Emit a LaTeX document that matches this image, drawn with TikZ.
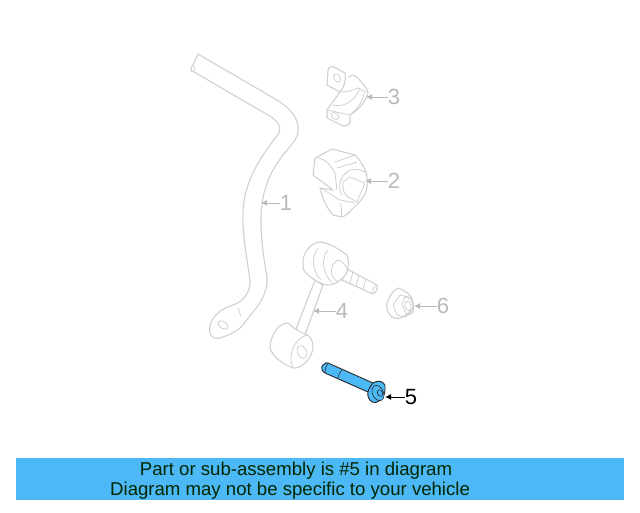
\documentclass[tikz,border=0pt]{standalone}
\usepackage{fontspec}
\setmainfont{Liberation Sans}
\usetikzlibrary{arrows.meta}
\usetikzlibrary{positioning}
\definecolor{partgray}{RGB}{208,208,208}
\definecolor{labelgray}{RGB}{185,185,185}
\definecolor{partblue}{RGB}{77,184,246}
\tikzset{
part/.style={draw=partgray, line width=1.1pt, line join=round},
partin/.style={draw=partgray, line width=0.8pt},
num/.style={text=labelgray, font=\fontsize{22}{22}\selectfont, inner sep=0pt},
lead/.style={draw=labelgray, line width=1pt, -{Latex[length=6pt,width=6pt]}},
bolt/.style={draw=black!85, line width=0.9pt, fill=partblue, line join=round},
banner/.style={font=\fontsize{18.6}{18.6}\selectfont, text=black!85!green, inner sep=0pt}
}
\begin{document}
\begin{tikzpicture}[x=1pt,y=-1pt]
\useasboundingbox (0,0) rectangle (640,512);
% stabilizer bar
\draw[part] (198,54) -- (277,100) .. controls (293,110) and (304,124) .. (295,140)
.. controls (285,154) and (266,170) .. (262,205) .. controls (259,225) and (263,255) .. (267,277)
.. controls (268,295) and (258,306) .. (245,322) .. controls (240,330) and (232,334) .. (220,338)
.. controls (212,340) and (208,334) .. (210,326) .. controls (212,316) and (222,308) .. (233,305)
.. controls (243,302) and (251,292) .. (250,280) .. controls (247,258) and (242,235) .. (243,212)
.. controls (244,180) and (262,155) .. (279,133) .. controls (282,127) and (277,120) .. (268,115)
-- (194,72) .. controls (190,72) and (190,68) .. (193,65) -- cycle;
\draw[partin] (193,65) .. controls (195,68) and (195,70) .. (194,72);
\draw[partin] (238,308) -- (241,316);
\draw[partin, rotate around={-35:(223,325)}] (223,325) ellipse (5.5 and 3.5);
% clamp
\draw[part] (328,70) .. controls (329,67) and (331,66) .. (334,67) -- (345,73) .. controls (346,80) and (345,86) .. (340,92)
.. controls (336,98) and (331,104) .. (327,110) -- (327,118) -- (343,126) .. controls (346,126) and (349,125) .. (350,123) -- (350,115)
.. controls (358,110) and (366,102) .. (368,93) .. controls (367,88) and (364,85) .. (362,83) .. controls (359,79) and (356,76) .. (353,75) -- (348,77);
\draw[part] (328,70) -- (327,85) -- (340,92);
\draw[partin] (327,110) -- (350,115);
\draw[partin] (340,92) .. controls (348,92) and (354,90) .. (358,88) -- (366,92);
\draw[partin] (350,115) .. controls (358,108) and (364,100) .. (364,92);
\draw[partin] (333,105) .. controls (344,108) and (356,100) .. (360,88);
\draw[partin, rotate around={30:(337,78)}] (337,78) ellipse (3 and 4.5);
\draw[partin, rotate around={-30:(335,116)}] (335,116) ellipse (4.5 and 3);
% bushing
\draw[part] (315,158) -- (332,149) -- (355,155) .. controls (360,160) and (363,165) .. (365,170) .. controls (368,176) and (369,190) .. (363,197)
.. controls (360,202) and (356,206) .. (353,208) .. controls (350,212) and (346,216) .. (342,217) -- (333,215)
.. controls (328,210) and (322,198) .. (320,188) -- (333,190) -- (313,175) -- cycle;
\draw[partin] (315,158) .. controls (322,157) and (330,163) .. (335,173) -- (337,190);
\draw[partin] (335,162) -- (355,155) (337,168) -- (357,162);
\draw[partin] (342,195) .. controls (337,186) and (340,176) .. (350,170) .. controls (355,168) and (361,170) .. (365,172);
\draw[partin] (343,182) -- (350,177) -- (365,183) (343,182) .. controls (342,188) and (344,194) .. (348,197) -- (357,202) -- (365,183);
\draw[partin] (320,188) .. controls (328,192) and (334,197) .. (340,200) -- (355,203);
\draw[partin] (340,203) .. controls (342,208) and (342,213) .. (341,217);
% link
\draw[part, fill=white] (295,332) -- (315,280) -- (323,285) -- (305,335);
\draw[part, fill=white] (288,323) .. controls (278,323) and (271,335) .. (270,347) .. controls (271,356) and (283,364) .. (293,368)
.. controls (303,369) and (313,356) .. (313,347) .. controls (313,340) and (310,336) .. (307,335) -- (295,329) -- cycle;
\draw[partin] (293,368) .. controls (287,355) and (295,338) .. (307,335);
\draw[partin, rotate around={25:(302,352)}] (302,352) ellipse (4.5 and 6.5);
\draw[part, fill=white] (347,269) -- (377,285) .. controls (378,288) and (376,293) .. (373,294) -- (342,280) -- cycle;
\draw[partin] (373,294) .. controls (372,290) and (374,286) .. (377,285);
\draw[partin] (353,272) -- (350,283) (359,275) -- (356,286) (366,279) -- (363,289);
\draw[part, fill=white] (320,242) .. controls (311,242) and (302,254) .. (303,263) .. controls (303,270) and (304,271) .. (305,272)
.. controls (311,278) and (320,284) .. (327,285) .. controls (336,286) and (349,275) .. (348,267) .. controls (349,262) and (348,257) .. (347,255)
.. controls (340,250) and (330,243) .. (320,242) -- cycle;
\draw[partin] (321,280) .. controls (311,270) and (312,255) .. (318,248);
\draw[partin] (332,283) .. controls (322,272) and (321,258) .. (328,250);
\draw[partin] (338,282) .. controls (331,278) and (328,268) .. (337,260) .. controls (341,260) and (346,264) .. (347,270);
% nut
\draw[part] (398,288) .. controls (405,290) and (412,295) .. (413,302) .. controls (415,308) and (408,316) .. (400,318)
.. controls (396,319) and (392,318) .. (390,315) .. controls (387,311) and (386,307) .. (387,303) .. controls (389,297) and (393,290) .. (398,288) -- cycle;
\draw[partin] (400,295) -- (412,298) -- (414,310) -- (405,317) -- (397,315) -- (393,305) -- cycle;
\draw[partin, rotate around={15:(408,306)}] (408,306) ellipse (5 and 9);
\draw[partin, rotate around={15:(408,306)}] (408,306) ellipse (3 and 5);
% bolt, the one part in colour
\draw[bolt] (328,363) -- (373,383) -- (368,392) -- (325,373) .. controls (321,371) and (321,366) .. (323,365) .. controls (325,363) and (327,362) .. (328,363) -- cycle;
\draw[bolt, line width=0.6pt] (328,363) .. controls (326,366) and (325,370) .. (325,373);
\draw[bolt, line width=0.6pt] (342,370) .. controls (340,372) and (338,375) .. (338,378);
\draw[bolt] (373,383) .. controls (376,381) and (380,381) .. (382,382) .. controls (385,384) and (386,387) .. (385,390) .. controls (385,394) and (383,398) .. (380,400)
.. controls (377,403) and (374,403) .. (372,402) .. controls (369,400) and (367,396) .. (368,392) .. controls (369,388) and (371,385) .. (373,383) -- cycle;
\draw[bolt, line width=0.6pt, rotate around={25:(378,393)}] (378,393) ellipse (5.5 and 8);
\draw[bolt, line width=0.6pt, rotate around={25:(380,393)}] (380,393) ellipse (2.5 and 3.5);
% labels
\node[num] (n1) at (286,203) {1};
\node[num] (n2) at (394,181) {2};
\node[num] (n3) at (394,97) {3};
\node[num] (n4) at (342,311) {4};
\node[num] (n6) at (443,306) {6};
\node[num, text=black] (n5) at (411,397) {5};
\coordinate (p1) at (261,203);
\coordinate (p2) at (365,181);
\coordinate (p3) at (366,97);
\coordinate (p4) at (313,311);
\coordinate (p6) at (414,306);
\coordinate (p5) at (385,397);
\draw[lead] (n1.west) -- (p1);
\draw[lead] (n2.west) -- (p2);
\draw[lead] (n3.west) -- (p3);
\draw[lead] (n4.west) -- (p4);
\draw[lead] (n6.west) -- (p6);
\draw[lead, draw=black] (n5.west) -- (p5);
% banner
\fill[partblue] (16,458) rectangle (624,500);
\node[banner] (line1) at (296,471) {Part or sub-assembly is \#5 in diagram};
\node[banner, anchor=west] (line2) at (110,491) {Diagram may not be specific to your vehicle};
\end{tikzpicture}
\end{document}
